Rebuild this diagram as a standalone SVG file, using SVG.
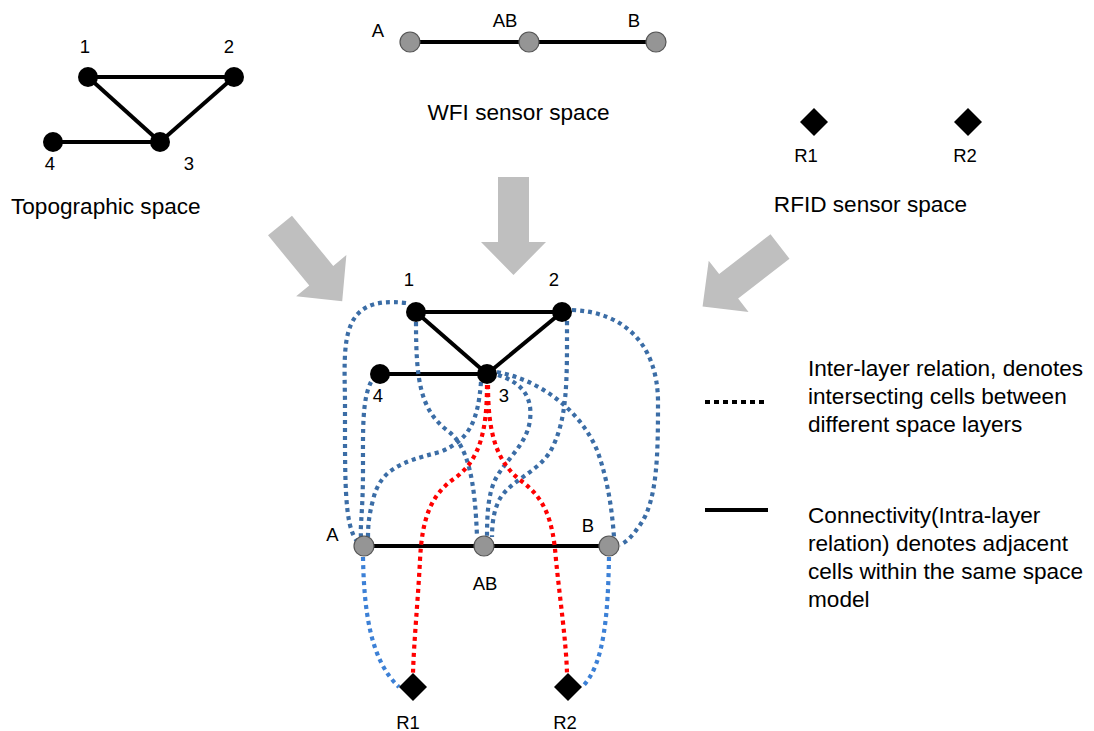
<svg xmlns="http://www.w3.org/2000/svg" width="1094" height="731" viewBox="0 0 1094 731">
<style>
text{font-family:"Liberation Sans",Arial,sans-serif;fill:#000}
.lbl{font-size:18.5px;text-anchor:middle}
.ttl{font-size:22.6px}
.edge{stroke:#000;stroke-width:4;fill:none}
.dot{fill:none;stroke-width:4.2;stroke-dasharray:4 4}
.db{stroke:#3b6da6}
.lb{stroke:#3c80d6}
.rd{stroke:#ff0000}
.bk{fill:#000}
.gr{fill:#959595;stroke:#555;stroke-width:1.2}
.arr{fill:#bfbfbf}
</style>
<defs>
<polygon id="bigArrow" points="0,-15.5 65,-15.5 65,-32.5 98,0 65,32.5 65,15.5 0,15.5"/>
</defs>

<g id="arrows" class="arr">
<use href="#bigArrow" transform="translate(280,225.5) rotate(50.6)"/>
<use href="#bigArrow" transform="translate(513.5,177) rotate(90)"/>
<use href="#bigArrow" transform="translate(780,246.5) rotate(142.2)"/>
</g>

<g id="connectors">
<line class="edge" x1="88" y1="77" x2="234" y2="77"/>
<line class="edge" x1="88" y1="77" x2="160" y2="142"/>
<line class="edge" x1="234" y1="77" x2="160" y2="142"/>
<line class="edge" x1="53" y1="142" x2="160" y2="142"/>
<line class="edge" x1="410" y1="42" x2="656" y2="42"/>
<line class="edge" x1="416" y1="312" x2="562" y2="312"/>
<line class="edge" x1="416" y1="312" x2="487" y2="374"/>
<line class="edge" x1="562" y1="312" x2="487" y2="374"/>
<line class="edge" x1="380" y1="374" x2="487" y2="374"/>
<line class="edge" x1="364" y1="546" x2="609" y2="546"/>
<path class="dot db" d="M406,303 C340,295 344,340 345,400 C345,480 344,525 357,541"/>
<path class="dot db" d="M371,382 C362,400 363,430 363,470 C363,510 360,525 361,537"/>
<path class="dot db" d="M481,382 C478,420 470,440 440,452 C400,462 380,470 373,500 C369,515 368,525 368,537"/>
<path class="dot db" d="M416,322 C416,380 420,410 448,431 C468,446 475,480 477,537"/>
<path class="dot db" d="M498,375 C520,382 533,395 530,420 C527,445 505,460 495,480 C488,495 487,515 487,537"/>
<path class="dot db" d="M567,321 C567,380 568,420 550,452 C535,475 505,482 497,505 C493,515 492,527 492,537"/>
<path class="dot db" d="M497,372 C540,380 580,410 597,450 C608,480 612,510 614,537"/>
<path class="dot db" d="M572,310 C625,312 657,345 658,400 C658,450 658,500 640,525 C633,535 628,541 620,545"/>
<path class="dot lb" d="M363,557 C364,610 370,660 399,687"/>
<path class="dot lb" d="M609,557 C608,610 605,665 582,687"/>
<path class="dot rd" d="M487,385 C487,430 480,460 455,478 C430,495 422,520 420,560 C418,600 414,640 413,673"/>
<path class="dot rd" d="M488,385 C488,430 495,460 520,480 C545,498 553,520 556,560 C560,600 566,640 567,673"/>
</g>

<g id="topo-space">
<circle class="bk" cx="88" cy="77" r="10"/>
<circle class="bk" cx="234" cy="77" r="10"/>
<circle class="bk" cx="160" cy="142" r="10"/>
<circle class="bk" cx="53" cy="142" r="10"/>
<text class="lbl" x="85" y="53">1</text>
<text class="lbl" x="229" y="53">2</text>
<text class="lbl" x="189" y="170">3</text>
<text class="lbl" x="50" y="170">4</text>
<text class="ttl" x="11" y="214">Topographic space</text>
</g>

<g id="wfi-space">
<circle class="gr" cx="410" cy="42" r="10"/>
<circle class="gr" cx="529" cy="42" r="10"/>
<circle class="gr" cx="656" cy="42" r="10"/>
<text class="lbl" x="378" y="37">A</text>
<text class="lbl" x="505" y="27">AB</text>
<text class="lbl" x="634" y="27">B</text>
<text class="ttl" x="518.5" y="120" text-anchor="middle">WFI sensor space</text>
</g>

<g id="rfid-space">
<polygon class="bk" points="814,108 828,122 814,136 800,122"/>
<polygon class="bk" points="968,108 982,122 968,136 954,122"/>
<text class="lbl" x="806" y="162">R1</text>
<text class="lbl" x="965" y="162">R2</text>
<text class="ttl" x="870.5" y="212" text-anchor="middle">RFID sensor space</text>
</g>

<g id="node-1"><circle class="bk" cx="416" cy="312" r="10"/><text class="lbl" x="409" y="286">1</text></g>
<g id="node-2"><circle class="bk" cx="562" cy="312" r="10"/><text class="lbl" x="554" y="286">2</text></g>
<g id="node-3"><circle class="bk" cx="487" cy="374" r="10"/><text class="lbl" x="504" y="402">3</text></g>
<g id="node-4"><circle class="bk" cx="380" cy="374" r="10"/><text class="lbl" x="378" y="402">4</text></g>
<g id="node-A"><circle class="gr" cx="364" cy="546" r="10"/><text class="lbl" x="332.5" y="541">A</text></g>
<g id="node-AB"><circle class="gr" cx="484" cy="546" r="10"/><text class="lbl" x="485" y="590">AB</text></g>
<g id="node-B"><circle class="gr" cx="609" cy="546" r="10"/><text class="lbl" x="588" y="532">B</text></g>
<g id="node-R1"><polygon class="bk" points="413,673 427,687 413,701 399,687"/><text class="lbl" x="408" y="729">R1</text></g>
<g id="node-R2"><polygon class="bk" points="568,673 582,687 568,701 554,687"/><text class="lbl" x="565" y="729">R2</text></g>

<g id="legend">
<line x1="705" y1="402" x2="768" y2="402" stroke="#000" stroke-width="4" stroke-dasharray="5 4"/>
<line x1="705" y1="510" x2="768" y2="510" stroke="#000" stroke-width="4"/>
<text class="ttl" x="808" y="376">Inter-layer relation, denotes</text>
<text class="ttl" x="808" y="404">intersecting cells between</text>
<text class="ttl" x="808" y="432">different space layers</text>
<text class="ttl" x="808" y="523">Connectivity(Intra-layer</text>
<text class="ttl" x="808" y="551">relation) denotes adjacent</text>
<text class="ttl" x="808" y="579">cells within the same space</text>
<text class="ttl" x="808" y="607">model</text>
</g>
</svg>
